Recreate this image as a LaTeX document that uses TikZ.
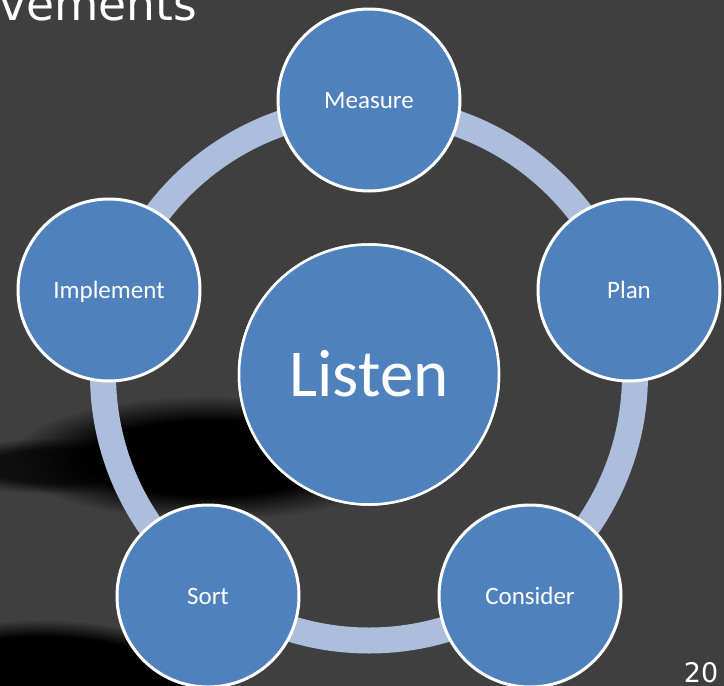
\documentclass[tikz,border=0pt]{standalone}
\usepackage{fontspec}
\newfontfamily\labelfont{Carlito}
\newfontfamily\slidefont{DejaVu Sans}
\usetikzlibrary{fadings}

\definecolor{slidebg}{RGB}{63,63,63}
\definecolor{stepblue}{RGB}{79,129,189}
\definecolor{ringblue}{RGB}{172,190,220}

% soft-edged masks for the dark shadow blobs (white = opaque, black = clear)
\pgfdeclareradialshading{blobmaskwide}{\pgfpointorigin}{color(0bp)=(white); color(15bp)=(white); color(25bp)=(black); color(50bp)=(black)}
\pgfdeclarefading{softblob}{\pgfuseshading{blobmaskwide}}
\pgfdeclareradialshading{blobmasktight}{\pgfpointorigin}{color(0bp)=(white); color(20bp)=(white); color(25bp)=(black); color(50bp)=(black)}
\pgfdeclarefading{firmblob}{\pgfuseshading{blobmasktight}}

\tikzset{
  stepnode/.style={circle, draw=white, line width=3pt, fill=stepblue,
    minimum size=182pt, inner sep=0pt, text=white,
    font=\labelfont\fontsize{25}{30}\selectfont, text height=16pt, text depth=0pt},
  hubnode/.style={stepnode, line width=2.5pt, minimum size=260pt,
    font=\labelfont\fontsize{67}{80}\selectfont, text height=43pt},
  ringline/.style={draw=ringblue, line width=26pt},
  slidetext/.style={inner sep=0pt, text=white}
}

\begin{document}
\begin{tikzpicture}[x=1pt, y=-1pt]
  \useasboundingbox (0,0) rectangle (724,686);
  \clip (0,0) rectangle (724,686);
  \fill[slidebg] (0,0) rectangle (724,686);

  % shadows cast across the backdrop
  \fill[black, path fading=softblob] (10,396) rectangle (410,520);
  \fill[black, opacity=0.75, path fading=softblob] (-60,438) rectangle (170,494);
  \fill[black, path fading=firmblob] (-160,620) rectangle (240,790);

  % hub and cycle steps
  \node[hubnode] (listen) at (369,374.5) {Listen};
  \draw[ringline] (listen.center) circle[radius=266];

  \node[stepnode] (measure)   at (369,100) {Measure};
  \node[stepnode] (plan)      at (629,290) {Plan};
  \node[stepnode] (consider)  at (530,596) {Consider};
  \node[stepnode] (sort)      at (208,596) {Sort};
  \node[stepnode] (implement) at (109,290) {Implement};
  \node[hubnode] at (listen.center) {Listen};

  % slide title remnant and page number
  \node[slidetext, anchor=base west, font=\slidefont\fontsize{45.5}{50}\selectfont] (title) at (-1,20) {vements};
  \node[slidetext, anchor=base east, font=\slidefont\fontsize{27}{30}\selectfont] (pageno) at (718.5,682) {20};
\end{tikzpicture}
\end{document}
